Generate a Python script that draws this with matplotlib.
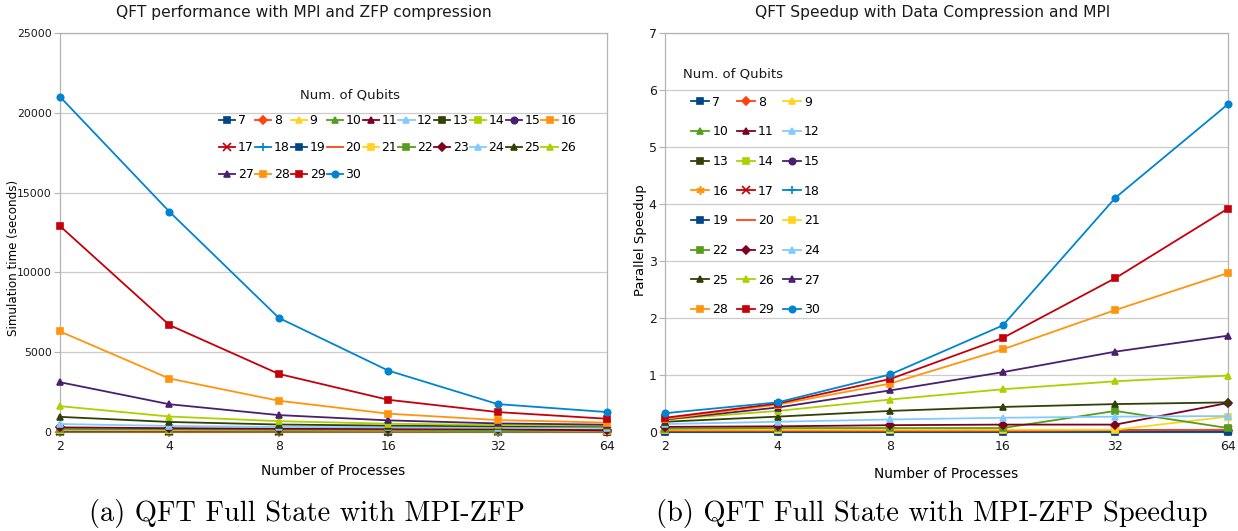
import matplotlib

matplotlib.use("Agg")
import matplotlib.pyplot as plt  # noqa: E402

GRID = "#cccccc"
FRAME = "#b3b3b3"
INK = "#1a1a1a"

procs = [2, 4, 8, 16, 32, 64]
qubits = list(range(7, 31))

# simulation time in seconds, one row per qubit count (7 .. 30)
sim_time = [
    [5, 5, 8, 10, 12, 15],
    [8, 8, 10, 12, 15, 18],
    [10, 10, 12, 15, 18, 20],
    [12, 12, 15, 18, 20, 25],
    [15, 15, 18, 20, 25, 30],
    [18, 18, 20, 25, 30, 35],
    [22, 22, 25, 30, 35, 40],
    [28, 28, 30, 35, 40, 45],
    [35, 35, 38, 40, 45, 50],
    [45, 42, 45, 48, 50, 55],
    [55, 50, 50, 55, 60, 60],
    [70, 60, 60, 62, 65, 70],
    [90, 75, 70, 70, 72, 75],
    [110, 90, 85, 80, 80, 85],
    [140, 120, 110, 100, 100, 90],
    [190, 160, 140, 130, 60, 150],
    [290, 240, 210, 190, 180, 100],
    [500, 380, 320, 290, 270, 260],
    [950, 630, 470, 400, 360, 350],
    [1620, 970, 680, 520, 440, 400],
    [3120, 1740, 1060, 730, 540, 460],
    [6300, 3350, 1960, 1150, 750, 590],
    [12900, 6700, 3640, 2020, 1250, 830],
    [21000, 13800, 7150, 3850, 1750, 1250],
]

# parallel speedup, same row order
speedup = [
    [0.01, 0.01, 0.01, 0.01, 0.01, 0.01],
    [0.01, 0.01, 0.01, 0.01, 0.01, 0.02],
    [0.01, 0.01, 0.01, 0.01, 0.01, 0.02],
    [0.02, 0.02, 0.02, 0.02, 0.02, 0.02],
    [0.02, 0.02, 0.02, 0.02, 0.02, 0.02],
    [0.02, 0.02, 0.02, 0.02, 0.02, 0.03],
    [0.02, 0.02, 0.02, 0.02, 0.02, 0.03],
    [0.02, 0.02, 0.02, 0.03, 0.03, 0.03],
    [0.02, 0.02, 0.03, 0.03, 0.03, 0.03],
    [0.03, 0.03, 0.03, 0.03, 0.03, 0.03],
    [0.03, 0.03, 0.03, 0.03, 0.03, 0.03],
    [0.03, 0.03, 0.03, 0.03, 0.03, 0.03],
    [0.0, 0.0, 0.0, 0.0, 0.0, 0.0],
    [0.02, 0.02, 0.02, 0.02, 0.03, 0.04],
    [0.04, 0.04, 0.04, 0.04, 0.04, 0.27],
    [0.06, 0.07, 0.07, 0.07, 0.37, 0.07],
    [0.09, 0.10, 0.12, 0.13, 0.13, 0.51],
    [0.14, 0.18, 0.22, 0.25, 0.27, 0.28],
    [0.18, 0.27, 0.37, 0.44, 0.49, 0.52],
    [0.22, 0.37, 0.57, 0.75, 0.89, 0.99],
    [0.22, 0.43, 0.73, 1.05, 1.41, 1.69],
    [0.23, 0.48, 0.85, 1.45, 2.14, 2.79],
    [0.25, 0.50, 0.93, 1.65, 2.70, 3.92],
    [0.33, 0.52, 1.01, 1.87, 4.11, 5.75],
]

time_ticks = [0, 5000, 10000, 15000, 20000, 25000]
speedup_ticks = [0, 1, 2, 3, 4, 5, 6, 7]

# office-style palette, cycled every twelve series
PALETTE = ["#004586", "#ff420e", "#ffd320", "#579d1c", "#7e0021", "#83caff",
           "#314004", "#aecf00", "#4b1f6f", "#ff950e", "#c5000b", "#0084d1"]
ASTER = (6, 2, 0)
MARK_LEFT = ["s", "D", "^", "^", "^", "^", "s", "s", "o", "s", "x", "+",
             "s", "", "s", "s", "D", "^", "^", "^", "^", "s", "s", "o"]
MARK_RIGHT = ["s", "D", "^", "^", "^", "^", "s", "s", "o", ASTER, "x", "+",
              "s", "", "s", "s", "D", "^", "^", "^", "^", "s", "s", "o"]


def marker_size(m):
    if m == "D":
        return 3.6
    if m in ("x", "+", ASTER):
        return 6
    return 4.6


def draw_series(ax, values, markers):
    handles = []
    for i, q in enumerate(qubits):
        color = PALETTE[i % 12]
        m = markers[i]
        (ln,) = ax.plot(procs, values[i], color=color, lw=1.3, marker=m or None,
                        ms=marker_size(m), mew=1.2, clip_on=False, zorder=3)
        handles.append(ln)
    return handles


def style_axes(ax, ticks):
    ax.set_xscale("log", base=2)
    ax.set_xlim(2, 64)
    ax.set_xticks(procs)
    ax.set_xticklabels([str(p) for p in procs], fontsize=9, color=INK)
    ax.minorticks_off()
    ax.set_ylim(ticks[0], ticks[-1])
    ax.set_yticks(ticks)
    ax.set_yticklabels([f"{t:d}" for t in ticks], color=INK)
    ax.grid(axis="y", color=GRID, lw=0.9, zorder=0)
    for s in ax.spines.values():
        s.set_color(FRAME)
        s.set_linewidth(0.9)
    ax.tick_params(axis="y", length=4, color=FRAME, pad=2)
    ax.tick_params(axis="x", length=0, pad=6)


fig = plt.figure(figsize=(12.38, 5.31), dpi=100, facecolor="white")
left = fig.add_axes([0.0485, 0.1864, 0.4418, 0.7515])
right = fig.add_axes([0.5372, 0.1864, 0.4547, 0.7515])

h_left = draw_series(left, sim_time, MARK_LEFT)
style_axes(left, time_ticks)
left.tick_params(axis="y", labelsize=7.8)
left.set_ylabel("Simulation time (seconds)", fontsize=8.6)
left.yaxis.set_label_coords(-0.073, 0.436)
left.set_xlabel("Number of Processes", fontsize=9.8, labelpad=8)
fig.text(304 / 1238, 1 - 12 / 531, "QFT performance with MPI and ZFP compression",
         ha="center", va="center", fontsize=11.2, color=INK)

# 10 columns, row-major order: reorder for the column-major legend fill
order_l = []
for c in range(10):
    for r in range(3):
        k = r * 10 + c
        if k < len(qubits):
            order_l.append(k)
left.legend([h_left[k] for k in order_l], [str(qubits[k]) for k in order_l],
            ncol=10, loc="upper left", bbox_to_anchor=(0.291, 0.796),
            frameon=False, fontsize=9, handlelength=1.3, handletextpad=0.2,
            columnspacing=0.1, labelspacing=1.12, borderpad=0, borderaxespad=0)
left.text(0.53, 0.845, "Num. of Qubits", transform=left.transAxes,
          ha="center", va="center", fontsize=9.5, color=INK)

h_right = draw_series(right, speedup, MARK_RIGHT)
style_axes(right, speedup_ticks)
right.tick_params(axis="y", labelsize=9)
right.set_ylabel("Parallel Speedup", fontsize=9.5)
right.yaxis.set_label_coords(-0.032, 0.481)
right.set_xlabel("Number of Processes", fontsize=9.8, labelpad=10)
fig.text(933 / 1238, 1 - 12 / 531, "QFT Speedup with Data Compression and MPI",
         ha="center", va="center", fontsize=11.2, color=INK)

order_r = []
for c in range(3):
    for r in range(8):
        order_r.append(r * 3 + c)
right.legend([h_right[k] for k in order_r], [str(qubits[k]) for k in order_r],
             ncol=3, loc="upper left", bbox_to_anchor=(0.046, 0.843),
             frameon=False, fontsize=9, handlelength=1.45, handletextpad=0.25,
             columnspacing=0.7, labelspacing=1.335, borderpad=0, borderaxespad=0)
right.text(0.032, 0.898, "Num. of Qubits", transform=right.transAxes,
           ha="left", va="center", fontsize=9.5, color=INK)

fig.text(0.248, 0.018, "(a) QFT Full State with MPI-ZFP", ha="center",
         fontsize=20.5, family="cmr10")
fig.text(0.753, 0.018, "(b) QFT Full State with MPI-ZFP Speedup", ha="center",
         fontsize=20.5, family="cmr10")

fig.savefig("out.png", dpi=100, facecolor="white")
